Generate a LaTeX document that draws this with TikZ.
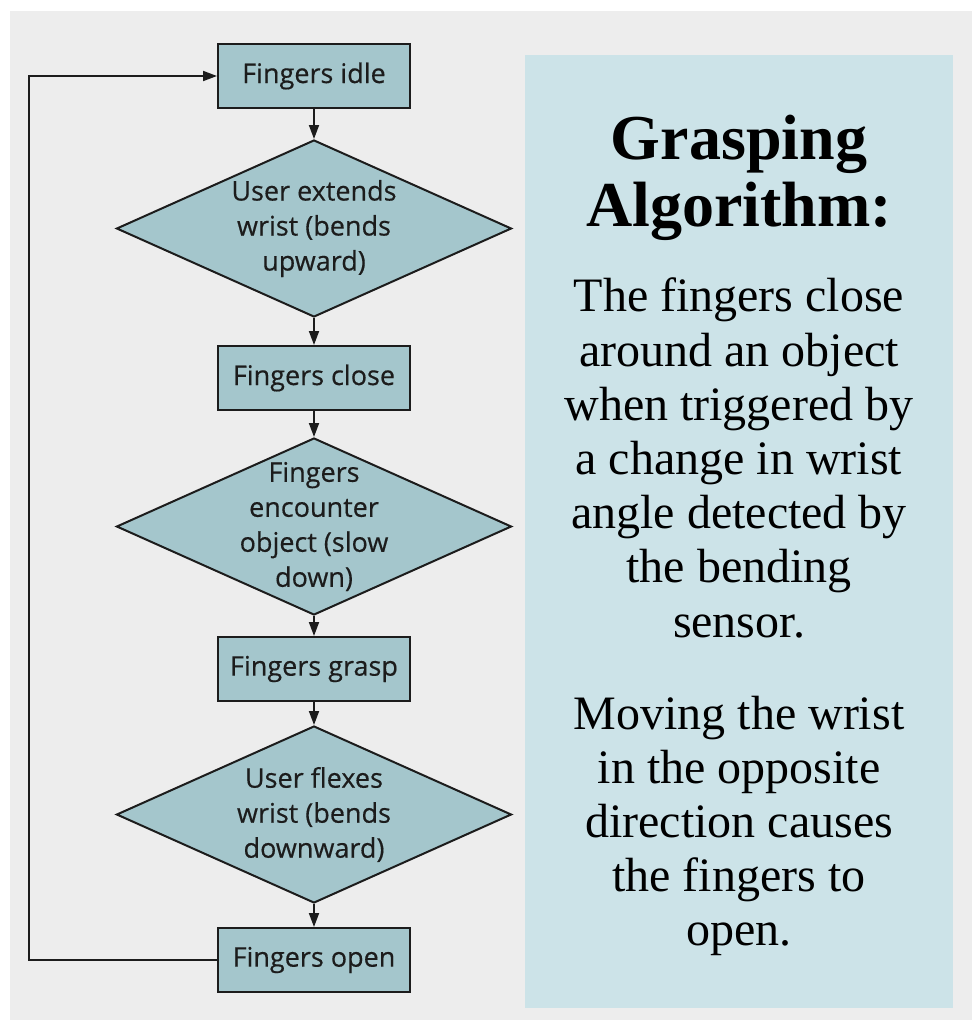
\documentclass[tikz,border=0pt]{standalone}
\usepackage{fontspec}
\setmainfont{Liberation Serif}
\newfontfamily\chartfont{Open Sans}[FakeBold=0.4]
\usepackage{xcolor}
\usepackage{tikz}
\usetikzlibrary{arrows.meta,shapes.geometric}

\definecolor{boxfill}{HTML}{A4C6CC}
\definecolor{panelfill}{HTML}{CCE3E8}
\definecolor{pagegray}{HTML}{EDEDED}
\definecolor{inkgray}{HTML}{1C1C1C}

\begin{document}
\begin{tikzpicture}[
    x=1pt, y=-1pt,
    process/.style={draw=inkgray, line width=2pt, fill=boxfill, rectangle, minimum width=192pt, minimum height=64pt, inner sep=0pt, text=inkgray, font=\chartfont\fontsize{27}{36}\selectfont},
    decision/.style={draw=inkgray, line width=2pt, fill=boxfill, diamond, minimum width=395pt, minimum height=177pt, inner sep=0pt},
    dtext/.style={align=center, inner sep=0pt, text=inkgray, font=\chartfont\fontsize{27}{35}\selectfont},
    panel/.style={fill=panelfill, minimum width=428pt, minimum height=953pt, inner sep=0pt},
    flow/.style={->, line width=1.8pt, draw=inkgray},
    >={Triangle[length=14pt,width=10pt]}
]

% Background
\useasboundingbox (0,0) rectangle (972,1020);
\fill[pagegray] (10,11) rectangle (972,1020);

% Nodes
\node[process] (idle) at (314,76) {Fingers idle};
\node[decision, label={[dtext]center:User extends\\wrist (bends\\upward)}] (extend) at (314,228.5) {};
\node[process] (close) at (314,378) {Fingers close};
\node[decision, label={[dtext]center:Fingers\\encounter\\object (slow\\down)}] (encounter) at (314,526.5) {};
\node[process] (grasp) at (314,669) {Fingers grasp};
\node[decision, label={[dtext]center:User flexes\\wrist (bends\\downward)}] (flex) at (314,814.5) {};
\node[process] (open) at (314,960) {Fingers open};
\coordinate (loopcorner) at (29,960);

% Edges
\draw[flow] (idle) -- (extend);
\draw[flow] (extend) -- (close);
\draw[flow] (close) -- (encounter);
\draw[flow] (encounter) -- (grasp);
\draw[flow] (grasp) -- (flex);
\draw[flow] (flex) -- (open);
\draw[flow] (open.west) -- (loopcorner) |- (idle.west); % back to the start

% Side panel
\node[panel] (panel) at (739,531.5) {};
\node[align=center, inner sep=0pt, font=\bfseries\fontsize{64}{67}\selectfont] (title) at (739,178) {Grasping\\Algorithm:};
\node[align=center, inner sep=0pt, font=\fontsize{48}{54.2}\selectfont] (body1) at (739,458) {The fingers close\\around an object\\when triggered by\\a change in wrist\\angle detected by\\the bending\\sensor.};
\node[align=center, inner sep=0pt, font=\fontsize{48}{54.2}\selectfont] (body2) at (739,826) {Moving the wrist\\in the opposite\\direction causes\\the fingers to\\open.};

\end{tikzpicture}
\end{document}
